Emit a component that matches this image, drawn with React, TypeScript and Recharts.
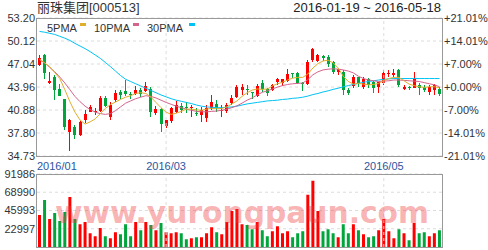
import React from 'react';
import { ComposedChart, Bar, Line, XAxis, YAxis, CartesianGrid, ReferenceLine, Cell } from 'recharts';

const RED = '#ff0000';
const GREEN = '#00a63c';
const C5 = '#e0ae2c';
const C10 = '#d5648c';
const C30 = '#00c3f5';
const GRID = '#dcdcdc';
const FRAME = '#999999';
const FONT = '"Liberation Sans", Arial, sans-serif';

const dates = [
  '2016-01-19','2016-01-20','2016-01-21','2016-01-22','2016-01-25','2016-01-26','2016-01-27','2016-01-28','2016-01-29',
  '2016-02-01','2016-02-02','2016-02-03','2016-02-04','2016-02-05','2016-02-15','2016-02-16','2016-02-17','2016-02-18','2016-02-19',
  '2016-02-22','2016-02-23','2016-02-24','2016-02-25','2016-02-26','2016-02-29',
  '2016-03-01','2016-03-02','2016-03-03','2016-03-04','2016-03-07','2016-03-08','2016-03-09','2016-03-10','2016-03-11',
  '2016-03-14','2016-03-15','2016-03-16','2016-03-17','2016-03-18','2016-03-21','2016-03-22','2016-03-23','2016-03-24','2016-03-25',
  '2016-03-28','2016-03-29','2016-03-30','2016-03-31',
  '2016-04-01','2016-04-05','2016-04-06','2016-04-07','2016-04-08','2016-04-11','2016-04-12','2016-04-13','2016-04-14','2016-04-15',
  '2016-04-18','2016-04-19','2016-04-20','2016-04-21','2016-04-22','2016-04-25','2016-04-26','2016-04-27','2016-04-28','2016-04-29',
  '2016-05-03','2016-05-04','2016-05-05','2016-05-06','2016-05-09','2016-05-10','2016-05-11','2016-05-12','2016-05-13',
  '2016-05-16','2016-05-17','2016-05-18',
];

const opens = [
  46.9, 48.2, 44.5, 45.3, 43.7, 42.3, 37.95, 38.6, 37.55, 39.5,
  40.7, 40.55, 40.7, 42.5, 40.0, 42.1, 43.3, 43.4, 43.0, 43.0,
  43.5, 43.4, 43.7, 40.5, 41.0, 38.7, 39.3, 40.7, 41.4, 41.3,
  41.1, 40.55, 40.2, 39.9, 41.1, 41.65, 40.7, 40.75, 41.8, 42.7,
  43.56, 43.65, 43.25, 42.8, 44.45, 43.65, 43.56, 44.55, 44.45, 44.8,
  45.8, 45.8, 44.45, 44.32, 47.58, 47.5, 48.1, 48.0, 47.3, 46.0,
  46.0, 43.5, 44.2, 45.25, 44.0, 45.1, 44.7, 43.9, 44.45, 45.6,
  45.6, 46.2, 43.65, 43.9, 43.9, 44.2, 44.0, 43.35, 43.56, 43.65,
];
const highs = [
  48.3, 48.4, 46.0, 45.6, 44.3, 42.4, 39.65, 38.9, 39.4, 40.9,
  41.6, 41.1, 42.8, 42.8, 42.0, 43.6, 43.6, 44.9, 43.3, 44.1,
  43.8, 44.6, 44.0, 41.4, 41.2, 39.6, 41.3, 42.1, 41.8, 41.9,
  41.55, 41.1, 41.33, 41.55, 42.9, 42.2, 41.55, 41.78, 42.9, 44.23,
  44.32, 44.23, 43.34, 44.32, 44.9, 43.79, 44.32, 45.2, 45.1, 46.37,
  45.85, 46.0, 44.6, 47.58, 49.23, 48.4, 48.3, 48.25, 47.4, 46.55,
  46.24, 43.79, 45.57, 45.35, 45.35, 45.2, 44.8, 44.68, 46.24, 46.24,
  46.37, 46.37, 44.23, 44.1, 46.02, 44.45, 44.23, 44.23, 44.32, 44.0,
];
const lows = [
  46.8, 45.0, 44.4, 42.2, 42.7, 38.3, 35.4, 37.0, 37.4, 39.1,
  40.6, 40.2, 40.6, 41.3, 39.6, 42.0, 42.4, 42.8, 42.4, 42.9,
  42.6, 43.3, 40.0, 40.2, 37.95, 38.5, 39.1, 40.5, 40.45, 40.45,
  40.0, 40.0, 39.3, 39.3, 40.9, 40.66, 40.0, 40.44, 41.55, 42.54,
  42.9, 42.9, 42.45, 42.54, 43.34, 42.67, 43.34, 44.32, 44.23, 44.6,
  45.13, 44.45, 43.34, 44.23, 47.35, 47.3, 47.5, 46.7, 45.6, 45.57,
  42.9, 42.9, 43.79, 44.0, 43.79, 43.9, 43.25, 43.25, 44.23, 45.35,
  45.35, 44.0, 43.56, 43.5, 43.88, 42.9, 43.34, 42.9, 42.9, 42.8,
];
const closes = [
  47.8, 45.8, 44.8, 43.6, 42.8, 38.5, 39.5, 37.5, 39.3, 40.35,
  41.35, 40.7, 42.45, 41.4, 41.55, 43.1, 42.9, 43.0, 42.9, 43.6,
  42.9, 44.1, 40.6, 41.0, 39.0, 39.5, 41.1, 41.6, 40.9, 41.1,
  41.3, 40.4, 40.9, 41.2, 41.9, 41.1, 40.9, 41.55, 42.5, 44.0,
  44.0, 43.5, 43.1, 44.1, 43.7, 43.1, 44.23, 45.0, 45.0, 45.7,
  45.66, 44.5, 44.3, 47.27, 49.05, 48.25, 47.8, 47.1, 46.0, 46.4,
  43.6, 43.1, 45.35, 44.45, 45.1, 44.3, 43.9, 44.6, 45.8, 45.8,
  45.9, 44.15, 43.9, 43.8, 45.1, 43.8, 43.6, 44.0, 44.2, 43.0,
];
const volumes = [
  40300, 59300, 35200, 42800, 32700, 44100, 63100, 35200, 28800, 31400,
  17400, 13600, 23800, 13600, 11000, 18700, 16100, 28800, 13600, 31400,
  21200, 31400, 27600, 21200, 30100, 18700, 17400, 18700, 17400, 9800,
  11000, 12300, 12300, 17400, 25000, 18700, 16100, 31400, 45400, 47900,
  28800, 27600, 22500, 31400, 21200, 13600, 19900, 26300, 17400, 19900,
  12300, 17400, 19900, 65700, 83500, 45400, 19900, 22500, 17400, 12300,
  28800, 17400, 28800, 21200, 16100, 12300, 13600, 21200, 35200, 19900,
  11000, 22500, 17400, 8500, 30100, 17400, 18700, 13600, 17400, 21200,
];
const ma5 = [
  47.7, 47.2, 46.7, 45.9, 45.1, 43.6, 42.0, 40.6, 39.55, 39.0,
  39.3, 39.7, 40.4, 41.1, 41.6, 41.95, 42.3, 42.6, 42.8, 43.1,
  43.2, 43.1, 42.6, 41.9, 41.2, 40.6, 40.3, 40.45, 40.7, 41.0,
  41.0, 40.9, 40.85, 41.0, 41.1, 41.05, 41.1, 41.3, 41.7, 42.1,
  42.7, 43.2, 43.55, 43.7, 43.65, 43.7, 44.1, 44.4, 44.6, 44.9,
  45.15, 45.25, 45.25, 45.7, 46.5, 47.1, 47.45, 47.55, 47.2, 46.5,
  45.4, 44.7, 44.35, 44.45, 44.35, 44.25, 44.3, 44.45, 44.85, 45.1,
  45.25, 45.25, 44.8, 44.35, 44.15, 44.0, 43.9, 44.0, 44.0, 43.85,
];
const ma10 = [
  47.6, 47.2, 46.6, 46.0, 45.3, 44.5, 43.6, 42.7, 42.0, 41.4,
  40.95, 40.6, 40.4, 40.3, 40.4, 40.8, 41.3, 41.8, 42.1, 42.4,
  42.6, 42.8, 42.7, 42.5, 42.2, 41.9, 41.65, 41.4, 41.2, 41.0,
  40.85, 40.7, 40.65, 40.65, 40.7, 40.75, 40.85, 41.0, 41.2, 41.45,
  41.8, 42.2, 42.5, 42.9, 43.25, 43.45, 43.7, 43.95, 44.15, 44.3,
  44.4, 44.45, 44.5, 44.95, 45.6, 46.0, 46.25, 46.35, 46.4, 46.35,
  46.25, 46.1, 45.85, 45.4, 45.1, 44.9, 44.8, 44.7, 44.75, 44.8,
  44.9, 44.9, 44.85, 44.8, 44.75, 44.7, 44.55, 44.4, 44.25, 44.0,
];
const ma30 = [
  51.4, 51.3, 51.15, 51.0, 50.75, 50.5, 50.2, 49.8, 49.45, 49.1,
  48.7, 48.25, 47.8, 47.25, 46.7, 46.1, 45.5, 45.0, 44.7, 44.4,
  44.1, 43.8, 43.5, 43.2, 42.9, 42.65, 42.4, 42.2, 42.05, 41.9,
  41.75, 41.55, 41.4, 41.3, 41.25, 41.2, 41.2, 41.25, 41.3, 41.4,
  41.55, 41.7, 41.8, 41.9, 42.0, 42.1, 42.15, 42.2, 42.3, 42.35,
  42.45, 42.5, 42.6, 42.75, 42.95, 43.1, 43.3, 43.45, 43.65, 43.8,
  44.0, 44.15, 44.3, 44.45, 44.6, 44.7, 44.8, 44.9, 45.0, 45.05,
  45.1, 45.1, 45.1, 45.1, 45.1, 45.1, 45.1, 45.1, 45.1, 45.1,
];

const priceTicks = [34.73, 37.8, 40.88, 43.96, 47.04, 50.12, 53.2];
const pctTicks = [-21.01, -14.01, -7.0, 0.0, 7.0, 14.01, 21.01];
const volTicks = [22997, 45993, 68990, 91986];
const monthTickDates = ['2016-01-19', '2016-03-01', '2016-05-03'];
const monthLabels = ['2016/01', '2016/03', '2016/05'];
const gridDates = ['2016-03-01', '2016-05-03'];

const title = '丽珠集团[000513]';
const rangeText = '2016-01-19 ~ 2016-05-18';
const legendItems = [
  { name: '5PMA', color: C5 },
  { name: '10PMA', color: C10 },
  { name: '30PMA', color: C30 },
];
const watermark = 'www.yurongpaun.com';

const rows = dates.map((date, i) => ({
  date,
  open: opens[i],
  high: highs[i],
  low: lows[i],
  close: closes[i],
  range: [lows[i], highs[i]],
  volume: volumes[i],
  ma5: ma5[i],
  ma10: ma10[i],
  ma30: ma30[i],
}));

function Candle(props: any) {
  const { x, y, width, height, payload } = props;
  if (x == null || y == null || !payload) return <g />;
  const top = Math.min(y, y + height);
  const h = Math.abs(height);
  const { open, close, high, low } = payload;
  const span = high - low || 1;
  const toY = (v: number) => top + ((high - v) / span) * h;
  const color = close >= open ? RED : GREEN;
  const bx = Math.round(x);
  const bw = Math.max(1, Math.round(width));
  const cx = bx + Math.floor(bw / 2);
  const yo = toY(open);
  const yc = toY(close);
  const bTop = Math.round(Math.min(yo, yc));
  const bH = Math.max(1, Math.round(Math.abs(yo - yc)));
  return (
    <g shapeRendering="crispEdges">
      <rect x={cx} y={Math.round(top)} width={1} height={Math.max(1, Math.round(h))} fill={color} />
      <rect x={bx} y={bTop} width={bw} height={bH} fill={color} />
    </g>
  );
}

function MonthTick(props: any) {
  const { x, payload } = props;
  const k = monthTickDates.indexOf(payload && payload.value);
  if (k < 0) return <g />;
  const first = k === 0;
  return (
    <text x={first ? 37 : x} y={170} textAnchor={first ? 'start' : 'middle'} fontSize={11} fontFamily={FONT} fill="#2c55a0">
      {monthLabels[k]}
    </text>
  );
}

const fmtPct = (v: number) => (v >= 0 ? '+' : '') + v.toFixed(2) + '%';
const axisTick = { fontSize: 11, fill: '#333', fontFamily: FONT };

export default function App() {
  return (
    <div style={{ position: 'fixed', left: 0, top: 0, width: 488, height: 250, background: '#fff', overflow: 'hidden' }}>
      <div style={{ position: 'absolute', left: 0, top: 0 }}>
        <ComposedChart width={488} height={172} data={rows} margin={{ top: 18, right: 0, bottom: 0, left: 0 }}>
          <CartesianGrid yAxisId="price" vertical={false} stroke={GRID} strokeDasharray="3 3" />
          <XAxis dataKey="date" interval={0} tick={(p: any) => <MonthTick {...p} />} tickLine={false} axisLine={false} height={16} />
          <YAxis yAxisId="price" orientation="left" width={37} domain={[34.73, 53.2]} ticks={priceTicks} interval={0}
            tickSize={0} tickMargin={2} axisLine={false} tickLine={false} tick={axisTick}
            tickFormatter={(v: number) => v.toFixed(2)} allowDataOverflow />
          <YAxis yAxisId="pct" orientation="right" width={46} domain={[-21.01, 21.01]} ticks={pctTicks} interval={0}
            tickSize={0} tickMargin={2} axisLine={false} tickLine={false} tick={axisTick}
            tickFormatter={fmtPct} allowDataOverflow />
          {gridDates.map((d) => (
            <ReferenceLine key={d} yAxisId="price" x={d} stroke={GRID} strokeDasharray="3 3" />
          ))}
          <Bar yAxisId="price" dataKey="range" barSize={3} shape={(p: any) => <Candle {...p} />} isAnimationActive={false} />
          <Line yAxisId="price" type="linear" dataKey="ma30" stroke={C30} strokeWidth={1} dot={false} isAnimationActive={false} />
          <Line yAxisId="price" type="linear" dataKey="ma10" stroke={C10} strokeWidth={1} dot={false} isAnimationActive={false} />
          <Line yAxisId="price" type="linear" dataKey="ma5" stroke={C5} strokeWidth={1} dot={false} isAnimationActive={false} />
        </ComposedChart>
      </div>
      <div style={{ position: 'absolute', left: 0, top: 160 }}>
        <ComposedChart width={488} height={90} data={rows} margin={{ top: 14, right: 46, bottom: 3, left: 0 }}>
          <CartesianGrid yAxisId="vol" vertical={false} stroke={GRID} strokeDasharray="3 3" />
          <XAxis dataKey="date" hide />
          <YAxis yAxisId="vol" orientation="left" width={37} domain={[0, 91986]} ticks={volTicks} interval={0}
            tickSize={0} tickMargin={2} axisLine={false} tickLine={false} tick={axisTick} allowDataOverflow />
          {gridDates.map((d) => (
            <ReferenceLine key={d} yAxisId="vol" x={d} stroke={GRID} strokeDasharray="3 3" />
          ))}
          <Bar yAxisId="vol" dataKey="volume" barSize={3} isAnimationActive={false}>
            {rows.map((r, i) => (
              <Cell key={i} fill={r.close >= r.open ? RED : GREEN} />
            ))}
          </Bar>
        </ComposedChart>
      </div>
      <svg width={488} height={250} style={{ position: 'absolute', left: 0, top: 0, pointerEvents: 'none' }}>
        <rect x={36.5} y={18.5} width={406} height={138} fill="none" stroke={FRAME} strokeWidth={1} />
        <rect x={36.5} y={174.5} width={406} height={73} fill="none" stroke={FRAME} strokeWidth={1} />
        <text x={37} y={12} fontSize={13} fontFamily={'"Liberation Sans", Arial, "Noto Sans CJK SC", sans-serif'} fill="#333">{title}</text>
        <text x={441} y={12} textAnchor="end" fontSize={13} fontFamily={FONT} fill="#222">{rangeText}</text>
        <text x={47} y={32} fontSize={11} fontFamily={FONT} fill="#333">{legendItems[0].name}</text>
        <rect x={80} y={23} width={6} height={3} fill={legendItems[0].color} />
        <text x={94} y={32} fontSize={11} fontFamily={FONT} fill="#333">{legendItems[1].name}</text>
        <rect x={133} y={23} width={6} height={3} fill={legendItems[1].color} />
        <text x={147} y={32} fontSize={11} fontFamily={FONT} fill="#333">{legendItems[2].name}</text>
        <rect x={189} y={23} width={6} height={3} fill={legendItems[2].color} />
        <text x={55} y={223} fontSize={30} fontWeight="bold" fontFamily='"DejaVu Sans", sans-serif' fill="#f03c3c" fillOpacity={0.4}
          textLength={374} lengthAdjust="spacingAndGlyphs">{watermark}</text>
      </svg>
    </div>
  );
}
